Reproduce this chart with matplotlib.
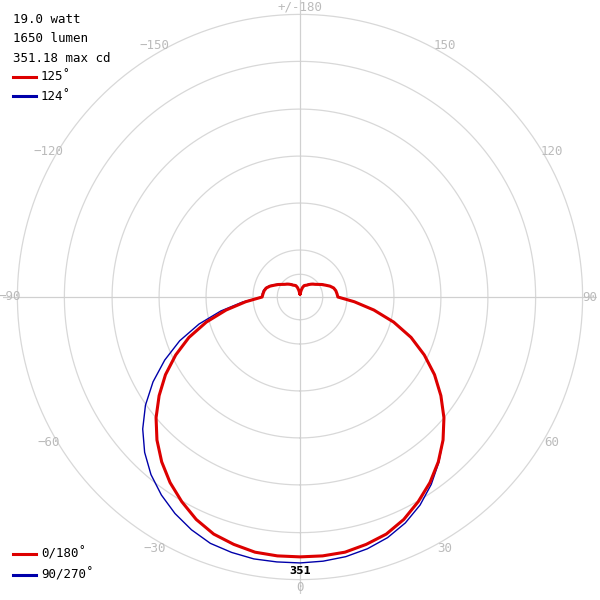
import numpy as np
import matplotlib.pyplot as plt

# angles in degrees, 0 at bottom, positive to the right (step 5)
angles = list(range(-180, 185, 5))
red_cd = [4, 5, 9, 13, 16, 17, 18, 20, 22, 24, 26, 29, 33, 37, 42, 46, 48, 49,
          50, 72, 99, 128, 156, 181, 205, 227, 248, 267, 284, 299, 312, 324, 333, 338, 342, 343,
          343,
          343, 342, 338, 333, 324, 312, 299, 284, 267, 248, 227, 205, 181, 156, 128, 99, 72,
          50, 49, 48, 46, 42, 37, 33, 29, 26, 24, 22, 20, 18, 17, 16, 13, 9, 5, 4]
blue_cd = [4, 5, 9, 13, 16, 17, 19, 21, 23, 25, 27, 30, 34, 38, 43, 47, 49, 50,
           50, 76, 106, 138, 169, 197, 224, 249, 271, 290, 306, 319, 330, 339, 346, 349, 351, 351,
           351,
           350, 348, 344, 338, 329, 317, 302, 285, 267, 248, 227, 205, 181, 156, 128, 99, 72,
           50, 49, 48, 46, 42, 37, 34, 30, 27, 25, 23, 21, 19, 17, 16, 13, 9, 5, 4]
rings = [30, 62, 124, 186, 248, 311, 373]
angle_labels = [0, 30, 60, 90, 120, 150, 180, -150, -120, -90, -60, -30]

fig = plt.figure(figsize=(6, 6), dpi=100)
ax = fig.add_axes([0.005, 0.01, 0.99, 0.99], projection='polar')
ax.set_theta_zero_location('S')
ax.set_theta_direction(1)
ax.set_ylim(0, 392)
ax.axis('off')

t = np.linspace(0, 2 * np.pi, 400)
for r in rings:
    ax.plot(t, np.full_like(t, r), color='#d8d8d8', lw=0.9)
for a in [0, 90, 180, 270]:
    ax.plot([np.radians(a)] * 2, [0, 392], color='#d0d0d0', lw=0.9)

for a in angle_labels:
    lab = '+/-180' if a == 180 else str(a).replace('-', '\u2212')
    ax.text(np.radians(a), 383, lab, color='#bbbbbb', fontsize=9,
            family='DejaVu Sans Mono', ha='center', va='center')

th = np.radians(angles)
ax.plot(th, blue_cd, color='#0000aa', lw=1.0)
ax.plot(th, red_cd, color='#dd0000', lw=2.2)
ax.text(0, 362, '351', fontsize=7.5, fontweight='bold', ha='center', va='center')

mono = dict(family='DejaVu Sans Mono', fontsize=9, transform=fig.transFigure, va='center')
fig.text(0.022, 0.968, '19.0 watt', **mono)
fig.text(0.022, 0.935, '1650 lumen', **mono)
fig.text(0.022, 0.902, '351.18 max cd', **mono)
fig.lines.append(plt.Line2D([0.022, 0.06], [0.872, 0.872], color='#dd0000', lw=2.2, transform=fig.transFigure))
fig.text(0.068, 0.872, '125\u02da', **mono)
fig.lines.append(plt.Line2D([0.022, 0.06], [0.840, 0.840], color='#0000aa', lw=2.2, transform=fig.transFigure))
fig.text(0.068, 0.840, '124\u02da', **mono)
fig.lines.append(plt.Line2D([0.022, 0.06], [0.077, 0.077], color='#dd0000', lw=2.2, transform=fig.transFigure))
fig.text(0.068, 0.077, '0/180\u02da', **mono)
fig.lines.append(plt.Line2D([0.022, 0.06], [0.042, 0.042], color='#0000aa', lw=2.2, transform=fig.transFigure))
fig.text(0.068, 0.042, '90/270\u02da', **mono)

fig.savefig('out.png')
